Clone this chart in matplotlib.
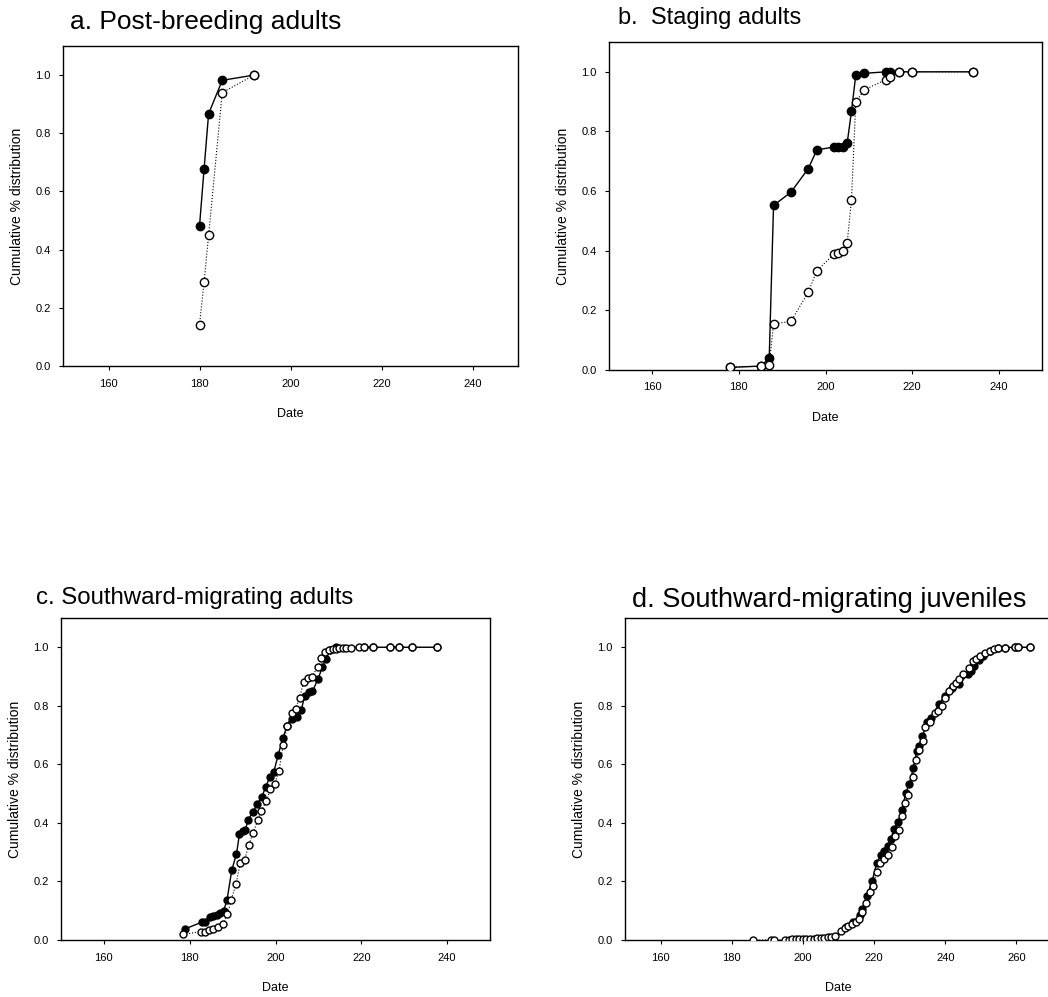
import matplotlib
matplotlib.use('Agg')
import matplotlib.pyplot as plt

plt.rcParams['font.family'] = ['Liberation Sans', 'DejaVu Sans']

# a. post-breeding adults
a_filled_day = [180, 181, 182, 185, 192]
a_filled_val = [0.481, 0.676, 0.867, 0.982, 1.0]
a_open_day = [180, 181, 182, 185, 192]
a_open_val = [0.141, 0.288, 0.449, 0.94, 1.0]

# b. staging adults
b_filled_day = [178, 185, 187, 188, 192, 196, 198, 202, 203, 204, 205, 206, 207, 209,
                214, 215, 217, 220, 234]
b_filled_val = [0.009, 0.013, 0.039, 0.552, 0.596, 0.675, 0.738, 0.748, 0.748, 0.748,
                0.76, 0.868, 0.99, 0.995, 1.0, 1.0, 1.0, 1.0, 1.0]
b_open_day = [178, 185, 187, 188, 192, 196, 198, 202, 203, 204, 205, 206, 207, 209,
              214, 215, 217, 220, 234]
b_open_val = [0.009, 0.013, 0.017, 0.155, 0.163, 0.26, 0.333, 0.389, 0.392, 0.40,
              0.425, 0.571, 0.90, 0.94, 0.974, 0.984, 1.0, 1.0, 1.0]

# c. southward-migrating adults
c_filled_day = [178.8, 182.8, 183.6, 184.8, 185.5, 186.3, 187.1, 187.9, 188.7, 189.8,
                190.9, 191.6, 192.4, 193.0, 193.6, 194.8, 195.8, 196.8, 197.7, 198.7,
                199.6, 200.6, 201.7, 202.7, 203.8, 204.9, 206.0, 206.8, 207.8, 208.6,
                209.9, 210.9, 211.7, 212.7, 214.0, 220.7, 222.7, 226.6, 228.8, 231.9, 237.7]
c_filled_val = [0.037, 0.061, 0.061, 0.08, 0.082, 0.086, 0.091, 0.099, 0.137, 0.238,
                0.294, 0.362, 0.371, 0.376, 0.411, 0.438, 0.466, 0.488, 0.523, 0.557,
                0.574, 0.631, 0.689, 0.731, 0.755, 0.763, 0.785, 0.834, 0.846, 0.849,
                0.891, 0.931, 0.96, 0.989, 1.0, 1.0, 1.0, 1.0, 1.0, 1.0, 1.0]
c_open_day = [178.5, 182.6, 183.6, 184.5, 185.5, 186.7, 187.7, 188.8, 189.7, 190.8,
              191.8, 192.8, 193.8, 194.8, 195.9, 196.7, 197.9, 198.8, 199.8, 200.8,
              201.8, 202.7, 203.8, 204.7, 205.6, 206.6, 207.5, 208.4, 209.8, 210.7,
              211.5, 212.5, 213.3, 214.1, 214.9, 215.7, 216.5, 217.5, 219.5, 220.7,
              222.7, 226.6, 228.8, 231.9, 237.7]
c_open_val = [0.019, 0.029, 0.029, 0.034, 0.038, 0.046, 0.055, 0.088, 0.137, 0.192,
              0.263, 0.274, 0.326, 0.366, 0.411, 0.442, 0.474, 0.517, 0.533, 0.577,
              0.666, 0.731, 0.774, 0.79, 0.826, 0.883, 0.896, 0.899, 0.931, 0.963,
              0.983, 0.992, 0.994, 0.995, 0.996, 0.997, 0.998, 0.999, 1.0, 1.0,
              1.0, 1.0, 1.0, 1.0, 1.0]

# d. southward-migrating juveniles
d_filled_day = [212.0, 214.0, 216.0, 216.7, 218.0, 219.5, 220.7, 221.9, 222.8, 223.8,
                224.7, 225.6, 226.8, 227.8, 228.9, 229.9, 231.0, 232.0, 232.7, 233.6,
                234.9, 236.0, 238.2, 240.0, 242.0, 243.8, 246.4, 247.3, 248.2, 249.5,
                250.6, 252.5, 254.8, 256.7, 259.5, 260.5, 263.8]
d_filled_val = [0.045, 0.06, 0.085, 0.105, 0.15, 0.203, 0.262, 0.291, 0.305, 0.322,
                0.345, 0.38, 0.404, 0.445, 0.502, 0.534, 0.586, 0.645, 0.664, 0.696,
                0.745, 0.76, 0.805, 0.835, 0.86, 0.873, 0.908, 0.919, 0.936, 0.955,
                0.97, 0.987, 0.997, 0.999, 1.0, 1.0, 1.0]
d_open_day = [186, 191, 192, 195, 196, 197, 198, 199, 200, 201, 202, 203, 204, 205, 206,
              207, 208, 209, 210.8, 211.8, 212.7, 213.7, 214.8, 215.8, 216.7, 217.6,
              218.8, 219.6, 220.8, 221.7, 222.8, 223.8, 224.9, 225.8, 226.9, 227.8,
              228.8, 229.4, 230.8, 231.8, 232.7, 233.7, 234.3, 235.8, 237.0, 237.9,
              239.0, 239.8, 241.0, 242.1, 243.0, 244.0, 245.0, 246.6, 247.8, 248.7,
              249.7, 251.1, 252.5, 253.6, 254.8, 256.7, 259.5, 260.5, 263.8]
d_open_val = [0.0, 0.0, 0.0, 0.001, 0.001, 0.002, 0.002, 0.003, 0.003, 0.004, 0.005,
              0.005, 0.006, 0.007, 0.008, 0.009, 0.01, 0.012, 0.03, 0.04, 0.048, 0.054,
              0.062, 0.072, 0.094, 0.128, 0.163, 0.185, 0.234, 0.263, 0.276, 0.291,
              0.318, 0.354, 0.377, 0.425, 0.468, 0.497, 0.557, 0.616, 0.65, 0.679,
              0.726, 0.744, 0.776, 0.782, 0.8, 0.828, 0.851, 0.866, 0.879, 0.893,
              0.908, 0.93, 0.953, 0.959, 0.97, 0.979, 0.987, 0.993, 0.997, 0.999,
              1.0, 1.0, 1.0]

W, H = 1048, 997
fig = plt.figure(figsize=(W / 100, H / 100), dpi=100)


def add_panel(rect, title, title_xy, title_size, filled, opened, xmax, xticks, ms):
    l, t, r, b = rect
    ax = fig.add_axes([l / W, (H - b) / H, (r - l) / W, (b - t) / H])
    ax.plot(filled[0], filled[1], '-', color='black', lw=1.0, marker='o', ms=ms,
            mfc='black', mec='black', zorder=2)
    ax.plot(opened[0], opened[1], ':', color='black', lw=0.8, marker='o', ms=ms,
            mfc='white', mec='black', mew=1.0, zorder=3)
    ax.set_xlim(150, xmax)
    ax.set_ylim(0, 1.1)
    ax.set_xticks(xticks)
    ax.set_yticks([0.0, 0.2, 0.4, 0.6, 0.8, 1.0])
    ax.set_yticklabels(['0.0', '0.2', '0.4', '0.6', '0.8', '1.0'])
    ax.tick_params(direction='out', length=3, width=0.8, labelsize=8, pad=6)
    for s in ax.spines.values():
        s.set_linewidth(1.0)
    ax.set_xlabel('Date', fontsize=9, labelpad=14)
    ax.set_ylabel('Cumulative % distribution', fontsize=10, labelpad=8)
    fig.text(title_xy[0] / W, 1 - title_xy[1] / H, title, fontsize=title_size,
             ha='left', va='center')
    return ax


add_panel((63, 46, 518, 366), 'a. Post-breeding adults', (70, 22), 19,
          (a_filled_day, a_filled_val), (a_open_day, a_open_val),
          250, [160, 180, 200, 220, 240], 6)
add_panel((609, 42, 1042, 370), 'b.  Staging adults', (618, 18), 17,
          (b_filled_day, b_filled_val), (b_open_day, b_open_val),
          250, [160, 180, 200, 220, 240], 6)
add_panel((61, 618, 490, 940), 'c. Southward-migrating adults', (36, 598), 17.3,
          (c_filled_day, c_filled_val), (c_open_day, c_open_val),
          250, [160, 180, 200, 220, 240], 5)
add_panel((625, 618, 1052, 940), 'd. Southward-migrating juveniles', (632, 600), 19.5,
          (d_filled_day, d_filled_val), (d_open_day, d_open_val),
          270, [160, 180, 200, 220, 240, 260], 5)

fig.savefig('out.png', dpi=100)
